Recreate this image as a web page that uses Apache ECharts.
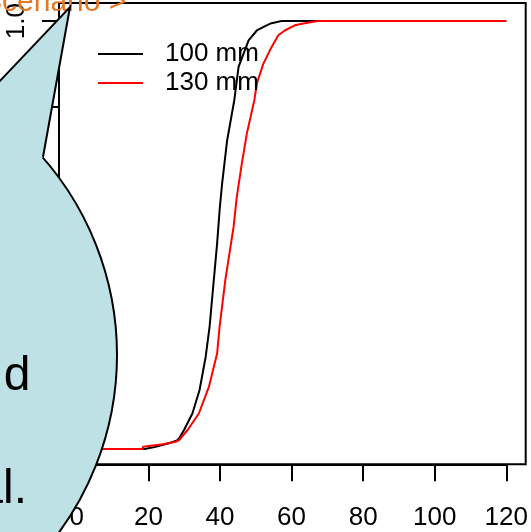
<!DOCTYPE html>
<html>
<head>
<meta charset="utf-8">
<script src="https://cdn.jsdelivr.net/npm/echarts@6/dist/echarts.min.js"></script>
<style>
html,body{margin:0;padding:0;background:#fff;}
#c{width:531px;height:532px;}
</style>
</head>
<body>
<div id="c"></div>
<script>
// ---- data ----
var seriesNames = ['100 mm', '130 mm'];
var xTicks = [0, 20, 40, 60, 80, 100, 120];
var yTicks = [0, 0.2, 0.4, 0.6, 0.8, 1.0];
var mm100_x = [2, 19, 22, 26, 28, 28.6, 30, 32.3, 34.3, 36.0, 37.1, 38.1, 39.2, 39.9, 40.6, 42.0, 44.0, 45.2, 48.0, 50.3, 52.6, 54.4, 57.2, 120];
var mm100_y = [0, 0, 0.005, 0.014, 0.02, 0.025, 0.045, 0.083, 0.138, 0.215, 0.286, 0.379, 0.48, 0.558, 0.62, 0.721, 0.815, 0.893, 0.955, 0.978, 0.988, 0.995, 1.0, 1.0];
var mm130_x = [2, 18.4, 18.5, 24, 27.7, 28.6, 31, 34.1, 36.9, 39.2, 39.9, 41.5, 43.8, 44.7, 46.1, 47.5, 49.6, 50.3, 52.1, 54.4, 56.3, 58.1, 60.9, 63.7, 67.4, 120];
var mm130_y = [0, 0, 0.005, 0.011, 0.017, 0.021, 0.045, 0.083, 0.145, 0.223, 0.286, 0.395, 0.519, 0.589, 0.667, 0.737, 0.815, 0.854, 0.9, 0.939, 0.967, 0.978, 0.99, 0.995, 1.0, 1.0];
var bubbleLines = ['d', 'al.'];
var topLink = 'Scenario >';

function pairs(xs, ys){ return xs.map(function(x,i){ return [x, ys[i]]; }); }

var FONT = 'Liberation Sans, Arial, sans-serif';
var chart = echarts.init(document.getElementById('c'), null, {renderer:'canvas'});

// bubble geometry (overlay)
var cx = -183, cy = 355, R = 300;
var tip = [70, 7];
var leftBase = [-21, 103];
var rightBase = [43, 157];
var bubbleFill = '#BDE1E4';

chart.setOption({
  animation: false,
  backgroundColor: '#fff',
  grid: {left: 76.8, right: 21, top: 20.7, bottom: 83, containLabel: false},
  legend: {
    orient: 'vertical', left: 93, top: 36,
    icon: 'rect',
    itemWidth: 45, itemHeight: 2, itemGap: 3,
    data: seriesNames,
    textStyle: {fontFamily: FONT, fontSize: 26, color: '#000', padding: [0,0,0,17]}
  },
  xAxis: {
    type: 'value', min: xTicks[0], max: xTicks[xTicks.length-1], interval: 20,
    offset: 15.3,
    axisLine: {show: true, onZero: false, lineStyle: {color: '#000', width: 2}},
    axisTick: {show: true, length: 17, lineStyle: {color: '#000', width: 2}},
    axisLabel: {fontFamily: FONT, fontSize: 26, color: '#000', margin: 41},
    splitLine: {show: false}
  },
  yAxis: {
    type: 'value', min: yTicks[0], max: yTicks[yTicks.length-1], interval: 0.2,
    offset: 17.8,
    axisLine: {show: true, onZero: false, lineStyle: {color: '#000', width: 2}},
    axisTick: {show: true, length: 17, lineStyle: {color: '#000', width: 2}},
    axisLabel: {fontFamily: FONT, fontSize: 26, color: '#000', rotate: 90, margin: 29,
      formatter: function(v){ return v.toFixed(1); }},
    splitLine: {show: false}
  },
  series: [
    {name: seriesNames[0], type: 'line', data: pairs(mm100_x, mm100_y), symbol: 'none',
      lineStyle: {color: '#000', width: 2}, itemStyle: {color: '#000'}, z: 2},
    {name: seriesNames[1], type: 'line', data: pairs(mm130_x, mm130_y), symbol: 'none',
      lineStyle: {color: '#FF0000', width: 2}, itemStyle: {color: '#FF0000'}, z: 3}
  ],
  graphic: [
    {type: 'rect', z: 50, shape: {x: 59, y: 3, width: 466.7, height: 461.3},
      style: {fill: 'none', stroke: '#000', lineWidth: 2}},
    {type: 'text', z: 60, style: {text: topLink, x: -18, y: 2.3, align: 'left', verticalAlign: 'middle',
      font: '30px ' + FONT, fill: '#E87722'}},
    {type: 'circle', z: 100, shape: {cx: cx, cy: cy, r: R},
      style: {fill: bubbleFill, stroke: '#000', lineWidth: 2}},
    {type: 'polygon', z: 101, shape: {points: [tip, leftBase, [0, 200], rightBase]},
      style: {fill: bubbleFill, stroke: null}},
    {type: 'polyline', z: 102, shape: {points: [leftBase, tip, rightBase]},
      style: {stroke: '#000', lineWidth: 2, fill: null}},
    {type: 'text', z: 103, style: {text: bubbleLines[0], x: 30.5, y: 376.4, align: 'right', verticalAlign: 'middle',
      font: '48px ' + FONT, fill: '#000'}},
    {type: 'text', z: 103, style: {text: bubbleLines[1], x: 27, y: 490, align: 'right', verticalAlign: 'middle',
      font: '48px ' + FONT, fill: '#000'}}
  ]
});
</script>
</body>
</html>
